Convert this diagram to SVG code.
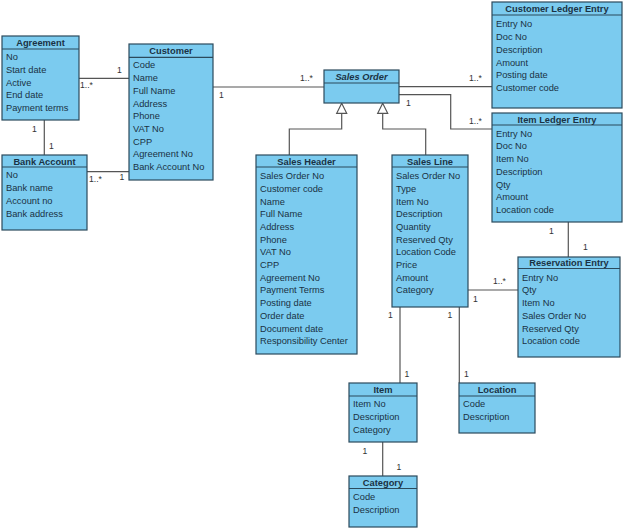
<svg xmlns="http://www.w3.org/2000/svg" width="623" height="530" viewBox="0 0 623 530">
<style>
.box{fill:#7bcbef;stroke:#2b4a5c;stroke-width:1.2}
.sep{stroke:#2b4a5c;stroke-width:1.2}
text{font-family:"Liberation Sans",Arial,sans-serif;font-size:9.3px;fill:#1a3244}
.t{font-weight:bold;text-anchor:middle}
.ti{font-weight:bold;font-style:italic;text-anchor:middle}
.c{fill:none;stroke:#555;stroke-width:1.2}
.g{fill:#fff;stroke:#555;stroke-width:1.2}
.m{fill:#333;font-size:8.6px}
</style>
<rect width="623" height="530" fill="#fff"/>
<g id="connectors">
<path class="c" d="M79 78.3H129"/>
<path class="c" d="M44.3 120V155"/>
<path class="c" d="M87 171.7H129"/>
<path class="c" d="M213 87H324"/>
<path class="c" d="M399 86.7H492"/>
<path class="c" d="M399 94.7H450.7V129H492"/>
<path class="c" d="M341.7 113.3V129H289.3V155"/>
<path class="c" d="M382.7 113.3V129H425.7V155"/>
<polygon class="g" points="341.7,103.3 336.7,113.3 346.7,113.3"/>
<polygon class="g" points="382.7,103.3 377.7,113.3 387.7,113.3"/>
<path class="c" d="M568.3 222V257"/>
<path class="c" d="M468 290H518"/>
<path class="c" d="M400 307V383"/>
<path class="c" d="M459.3 307V383"/>
<path class="c" d="M382.7 442V476"/>
<text class="m" x="80" y="88">1..*</text>
<text class="m" x="117" y="73">1</text>
<text class="m" x="32" y="132">1</text>
<text class="m" x="49" y="149">1</text>
<text class="m" x="89" y="182">1..*</text>
<text class="m" x="119.5" y="180">1</text>
<text class="m" x="219" y="98">1</text>
<text class="m" x="300" y="81">1..*</text>
<text class="m" x="469" y="81">1..*</text>
<text class="m" x="406" y="106">1</text>
<text class="m" x="469" y="124">1..*</text>
<text class="m" x="549" y="234">1</text>
<text class="m" x="583" y="250">1</text>
<text class="m" x="493" y="284">1..*</text>
<text class="m" x="473" y="302">1</text>
<text class="m" x="388" y="318">1</text>
<text class="m" x="447.5" y="318">1</text>
<text class="m" x="404.5" y="377">1</text>
<text class="m" x="464" y="377">1</text>
<text class="m" x="362.5" y="454">1</text>
<text class="m" x="396.5" y="470">1</text>
</g>
<g id="agreement">
<rect class="box" x="2" y="36" width="77" height="84"/>
<line class="sep" x1="2" y1="49" x2="79" y2="49"/>
<text class="t" x="40.5" y="46">Agreement</text>
<text x="6" y="60.1">No</text>
<text x="6" y="72.8">Start date</text>
<text x="6" y="85.5">Active</text>
<text x="6" y="98.2">End date</text>
<text x="6" y="110.9">Payment terms</text>
</g>
<g id="customer">
<rect class="box" x="129" y="44" width="84" height="136"/>
<line class="sep" x1="129" y1="57.3" x2="213" y2="57.3"/>
<text class="t" x="171" y="54">Customer</text>
<text x="133" y="68.4">Code</text>
<text x="133" y="81.1">Name</text>
<text x="133" y="93.8">Full Name</text>
<text x="133" y="106.5">Address</text>
<text x="133" y="119.2">Phone</text>
<text x="133" y="131.9">VAT No</text>
<text x="133" y="144.6">CPP</text>
<text x="133" y="157.3">Agreement No</text>
<text x="133" y="170">Bank Account No</text>
</g>
<g id="bank-account">
<rect class="box" x="2" y="155" width="85" height="75"/>
<line class="sep" x1="2" y1="167" x2="87" y2="167"/>
<text class="t" x="44.5" y="164.5">Bank Account</text>
<text x="6" y="178.4">No</text>
<text x="6" y="191.1">Bank name</text>
<text x="6" y="203.8">Account no</text>
<text x="6" y="216.5">Bank address</text>
</g>
<g id="sales-order">
<rect class="box" x="324" y="70" width="75" height="33"/>
<line class="sep" x1="324" y1="83" x2="399" y2="83"/>
<text class="ti" x="361.5" y="80">Sales Order</text>
</g>
<g id="customer-ledger-entry">
<rect class="box" x="492" y="2" width="130" height="106"/>
<line class="sep" x1="492" y1="15" x2="622" y2="15"/>
<text class="t" x="557" y="12">Customer Ledger Entry</text>
<text x="496" y="27.4">Entry No</text>
<text x="496" y="40.1">Doc No</text>
<text x="496" y="52.8">Description</text>
<text x="496" y="65.5">Amount</text>
<text x="496" y="78.2">Posting date</text>
<text x="496" y="90.9">Customer code</text>
</g>
<g id="item-ledger-entry">
<rect class="box" x="492" y="113" width="130" height="109"/>
<line class="sep" x1="492" y1="125" x2="622" y2="125"/>
<text class="t" x="557" y="122.5">Item Ledger Entry</text>
<text x="496" y="136.7">Entry No</text>
<text x="496" y="149.4">Doc No</text>
<text x="496" y="162.1">Item No</text>
<text x="496" y="174.8">Description</text>
<text x="496" y="187.5">Qty</text>
<text x="496" y="200.2">Amount</text>
<text x="496" y="212.9">Location code</text>
</g>
<g id="sales-header">
<rect class="box" x="256" y="155" width="101" height="199"/>
<line class="sep" x1="256" y1="167" x2="357" y2="167"/>
<text class="t" x="306.5" y="164.5">Sales Header</text>
<text x="260" y="179.1">Sales Order No</text>
<text x="260" y="191.8">Customer code</text>
<text x="260" y="204.5">Name</text>
<text x="260" y="217.2">Full Name</text>
<text x="260" y="229.9">Address</text>
<text x="260" y="242.6">Phone</text>
<text x="260" y="255.3">VAT No</text>
<text x="260" y="268">CPP</text>
<text x="260" y="280.7">Agreement No</text>
<text x="260" y="293.4">Payment Terms</text>
<text x="260" y="306.1">Posting date</text>
<text x="260" y="318.8">Order date</text>
<text x="260" y="331.5">Document date</text>
<text x="260" y="344.2">Responsibility Center</text>
</g>
<g id="sales-line">
<rect class="box" x="392" y="155" width="76" height="152"/>
<line class="sep" x1="392" y1="167" x2="468" y2="167"/>
<text class="t" x="430" y="164.5">Sales Line</text>
<text x="396" y="179.1">Sales Order No</text>
<text x="396" y="191.8">Type</text>
<text x="396" y="204.5">Item No</text>
<text x="396" y="217.2">Description</text>
<text x="396" y="229.9">Quantity</text>
<text x="396" y="242.6">Reserved Qty</text>
<text x="396" y="255.3">Location Code</text>
<text x="396" y="268">Price</text>
<text x="396" y="280.7">Amount</text>
<text x="396" y="293.4">Category</text>
</g>
<g id="reservation-entry">
<rect class="box" x="518" y="257" width="102" height="100"/>
<line class="sep" x1="518" y1="268.5" x2="620" y2="268.5"/>
<text class="t" x="569" y="266">Reservation Entry</text>
<text x="522" y="280.7">Entry No</text>
<text x="522" y="293.4">Qty</text>
<text x="522" y="306.1">Item No</text>
<text x="522" y="318.8">Sales Order No</text>
<text x="522" y="331.5">Reserved Qty</text>
<text x="522" y="344.2">Location code</text>
</g>
<g id="item">
<rect class="box" x="349" y="383" width="68" height="59"/>
<line class="sep" x1="349" y1="396" x2="417" y2="396"/>
<text class="t" x="383" y="393">Item</text>
<text x="353" y="407.4">Item No</text>
<text x="353" y="420.1">Description</text>
<text x="353" y="432.8">Category</text>
</g>
<g id="location">
<rect class="box" x="459" y="383" width="76" height="50"/>
<line class="sep" x1="459" y1="396" x2="535" y2="396"/>
<text class="t" x="497" y="393">Location</text>
<text x="463" y="407.4">Code</text>
<text x="463" y="420.1">Description</text>
</g>
<g id="category">
<rect class="box" x="349" y="476" width="68" height="51"/>
<line class="sep" x1="349" y1="488.5" x2="417" y2="488.5"/>
<text class="t" x="383" y="486">Category</text>
<text x="353" y="500.1">Code</text>
<text x="353" y="512.8">Description</text>
</g>
</svg>
